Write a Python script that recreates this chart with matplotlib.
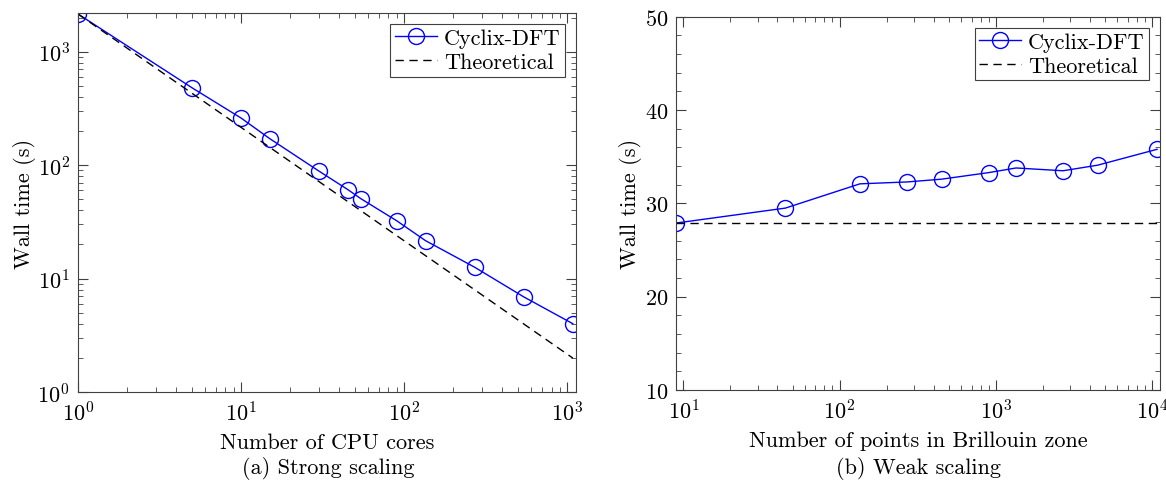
import numpy as np
import matplotlib
matplotlib.use('Agg')
import matplotlib.pyplot as plt
from matplotlib.ticker import MultipleLocator

plt.rcParams['font.family'] = 'serif'
plt.rcParams['font.serif'] = ['cmr10']
plt.rcParams['mathtext.fontset'] = 'cm'
plt.rcParams['axes.formatter.use_mathtext'] = True
plt.rcParams['font.size'] = 16

# strong scaling data
cores = [1, 5, 10, 15, 30, 45, 54, 90, 135, 270, 540, 1080]
strong_time = [2150, 481, 260, 171, 88.6, 61, 50.8, 32.3, 21.6, 12.6, 6.9, 4.0]

# weak scaling data
kpoints = [9, 45, 135, 270, 450, 900, 1350, 2700, 4500, 10800]
weak_time = [27.9, 29.5, 32.1, 32.3, 32.6, 33.3, 33.8, 33.5, 34.1, 35.8]

blue = '#0000ff'
ecol = '#404040'

fig = plt.figure(figsize=(11.66, 4.81), dpi=100)
ax1 = fig.add_axes([0.067, 0.183, 0.427, 0.788])
ax2 = fig.add_axes([0.580, 0.187, 0.415, 0.776])

# %% strong
c = np.array(cores, dtype=float)
ax1.loglog(c, strong_time, '-o', color=blue, mfc='none', ms=11.5, lw=1, mew=1,
           label='Cyclix-DFT')
ax1.loglog(c, strong_time[0] / c, '--', color='k', lw=1, dashes=(6, 4),
           label='Theoretical')
ax1.set_xlim(1, 1130)
ax1.set_ylim(1, 2200)
ax1.set_xlabel('Number of CPU cores', labelpad=6)
ax1.set_ylabel('Wall time (s)', labelpad=1)
fig.text(0.2815, 0.027, '(a) Strong scaling', ha='center', va='center')

# %% weak
ax2.semilogx(kpoints, weak_time, '-o', color=blue, mfc='none', ms=11.5, lw=1, mew=1,
             label='Cyclix-DFT')
ax2.semilogx([9, 11300], [weak_time[0], weak_time[0]], '--', color='k', lw=1,
             dashes=(6, 4), label='Theoretical')
ax2.set_xlim(9, 11300)
ax2.set_ylim(10, 50)
ax2.yaxis.set_major_locator(MultipleLocator(10))
ax2.yaxis.set_minor_locator(MultipleLocator(2))
ax2.set_xlabel('Number of points in Brillouin zone', labelpad=6)
ax2.set_ylabel('Wall time (s)', labelpad=2)
fig.text(0.7875, 0.027, '(b) Weak scaling', ha='center', va='center')

for ax in (ax1, ax2):
    ax.tick_params(which='both', direction='in', top=True, right=True,
                   colors=ecol, labelcolor='k', labelsize=16)
    ax.tick_params(which='major', length=7, pad=6)
    ax.tick_params(which='minor', length=3.5)
    for s in ax.spines.values():
        s.set_color(ecol)
    leg = ax.legend(loc='upper right', fancybox=False, edgecolor=ecol,
                    framealpha=1, handlelength=1.9, borderpad=0.2,
                    labelspacing=0.2, handletextpad=0.3, borderaxespad=0.5)
    leg.get_frame().set_linewidth(0.8)

fig.savefig('out.png', dpi=100)
